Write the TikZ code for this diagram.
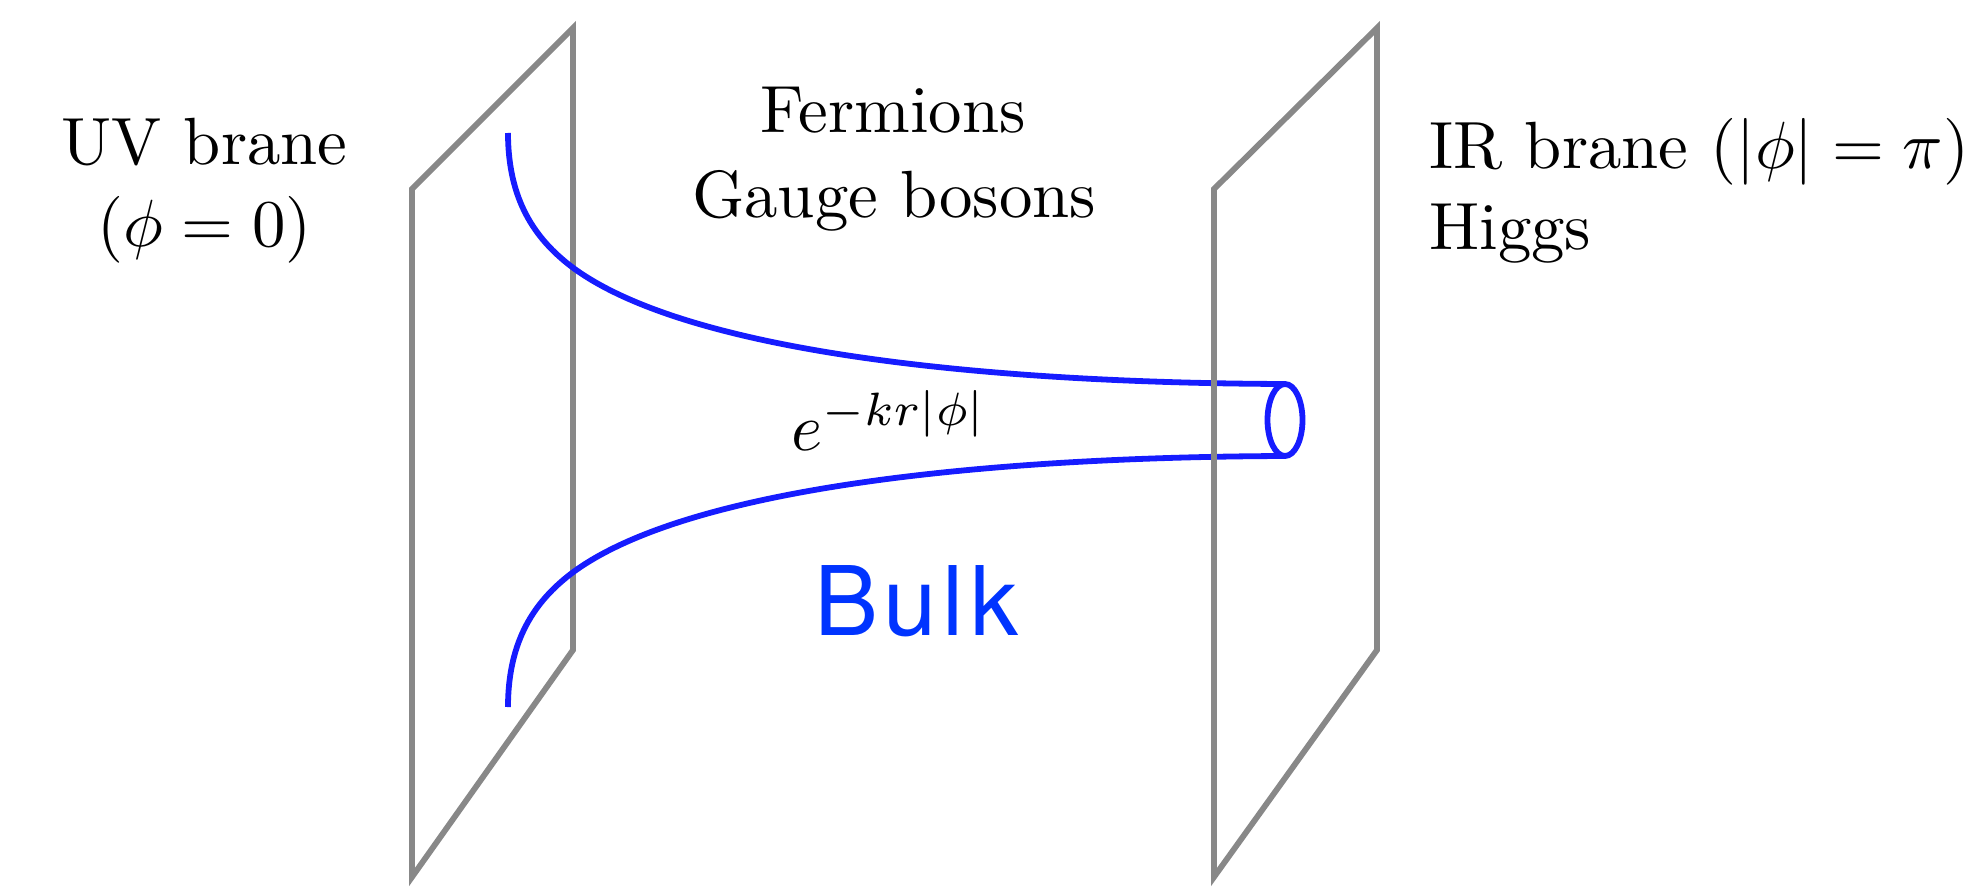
\documentclass[tikz,border=0pt]{standalone}
\usepackage{fontspec}
\usetikzlibrary{shapes.geometric}
\newfontfamily\bulkfont{TeX Gyre Heros}[LetterSpace=6]
\definecolor{branegray}{RGB}{136,136,136}
\definecolor{tubeblue}{RGB}{22,28,255}
\definecolor{bulkblue}{RGB}{0,52,255}
\tikzset{
  brane/.style={draw=branegray, line width=5.8pt, line join=miter},
  tube/.style={draw=tubeblue, line width=5.8pt},
  lbl/.style={inner sep=0pt, font=\fontsize{10}{12.4}\selectfont, scale=6.68},
}
\begin{document}
\begin{tikzpicture}[x=1pt,y=-1pt]
\useasboundingbox (0,0) rectangle (1972,893);
% left (UV) brane
\coordinate (uvA) at (573,28);
\coordinate (uvB) at (573,650);
\coordinate (uvC) at (412,877);
\coordinate (uvD) at (412,189);
\draw[brane] (uvA) -- (uvB) -- (uvC) -- (uvD) -- cycle;
% tube
\coordinate (t1) at (508,133);
\coordinate (t2) at (572,267);
\coordinate (b1) at (508,707);
\coordinate (b2) at (572,573);
\node[draw=tubeblue, line width=5.8pt, ellipse, minimum width=35pt, minimum height=72pt, inner sep=0pt, outer sep=0pt] (mouth) at (1285,420) {};
\draw[tube] (t1) .. controls (508,200) and (535,239) .. (t2)
  .. controls (690,355) and (1000,383) .. (mouth.north);
\draw[tube] (b1) .. controls (508,640) and (535,601) .. (b2)
  .. controls (690,485) and (1000,457) .. (mouth.south);
% right (IR) brane
\coordinate (irA) at (1377,28);
\coordinate (irB) at (1377,650);
\coordinate (irC) at (1214,877);
\coordinate (irD) at (1214,189);
\draw[brane] (irA) -- (irB) -- (irC) -- (irD) -- cycle;
% labels
\node[lbl, anchor=base] (uv1) at (204.5,165) {UV brane};
\node[lbl, anchor=base] (uv2) at (204.5,247) {$(\phi = 0)$};
\node[lbl, anchor=base] (f1) at (893,133) {Fermions};
\node[lbl, anchor=base] (f2) at (894,218) {Gauge bosons};
\node[lbl, anchor=base west] (ir1) at (1428,169) {IR brane $(|\phi| = \pi)$};
\node[lbl, anchor=base west] (ir2) at (1428,250) {Higgs};
\node[lbl, anchor=base west] (warp) at (790,450) {$e^{-kr|\phi|}$};
\node[inner sep=0pt, anchor=base, text=bulkblue, font=\bulkfont\fontsize{96}{110}\selectfont] (bulk) at (916,635) {Bulk};
\end{tikzpicture}
\end{document}
